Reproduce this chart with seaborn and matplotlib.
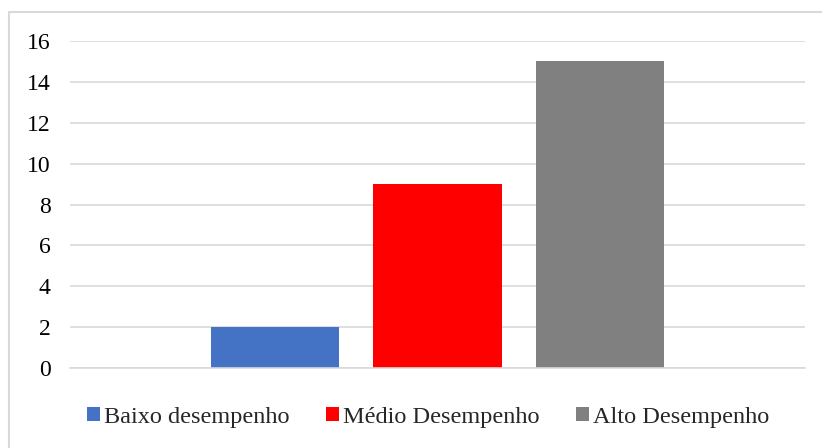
import matplotlib
matplotlib.use("Agg")
import matplotlib.pyplot as plt
import seaborn as sns
import pandas as pd
from matplotlib.lines import Line2D
from matplotlib.patches import Patch

categories = ["Baixo desempenho", "Médio Desempenho", "Alto Desempenho"]
values = [2, 9, 15]
colors = ["#4472C4", "#FF0000", "#808080"]
yticks = [0, 2, 4, 6, 8, 10, 12, 14, 16]

sns.set_theme(style="white")
plt.rcParams["font.family"] = ["Liberation Serif", "DejaVu Serif"]

df = pd.DataFrame({"grupo": ["g"] * 3, "nivel": categories, "valor": values})

W, H = 822, 448
fig = plt.figure(figsize=(W / 100, H / 100), dpi=100)
ax = fig.add_axes([70 / W, 1 - 368 / H, (805 - 70) / W, (368 - 41) / H])

sns.barplot(data=df, x="grupo", y="valor", hue="nivel", hue_order=categories,
            palette=colors, width=0.664, gap=0.213, saturation=1, ax=ax,
            legend=False, errorbar=None, linewidth=0)

ax.set_xlim(-0.5, 0.5)
ax.set_ylim(0, 16)
ax.set_yticks(yticks)
ax.set_yticklabels([str(t) for t in yticks], fontsize=17)
ax.set_xticks([])
ax.set_xlabel("")
ax.set_ylabel("")
ax.yaxis.grid(True, color="#d9d9d9", linewidth=1.2)
ax.set_axisbelow(True)
for s in ["top", "right", "left"]:
    ax.spines[s].set_visible(False)
ax.spines["bottom"].set_color("#d9d9d9")
ax.spines["bottom"].set_linewidth(1.2)
ax.tick_params(axis="y", length=0, pad=14, colors="black")

handles = [Patch(facecolor=c, edgecolor="none") for c in colors]
fig.legend(handles, categories, loc="center", bbox_to_anchor=(428 / W, 1 - 417 / H),
           ncol=3, frameon=False, fontsize=17.5, handlelength=0.55, handleheight=0.55,
           handletextpad=0.15, columnspacing=1.5)

# chart border
fig.add_artist(Line2D([9 / W, 9 / W], [0, 1 - 12 / H], color="#d9d9d9", lw=1.5,
                      transform=fig.transFigure))
fig.add_artist(Line2D([9 / W, 1], [1 - 12 / H, 1 - 12 / H], color="#d9d9d9", lw=1.5,
                      transform=fig.transFigure))

fig.savefig("out.png", dpi=100, facecolor="white")
